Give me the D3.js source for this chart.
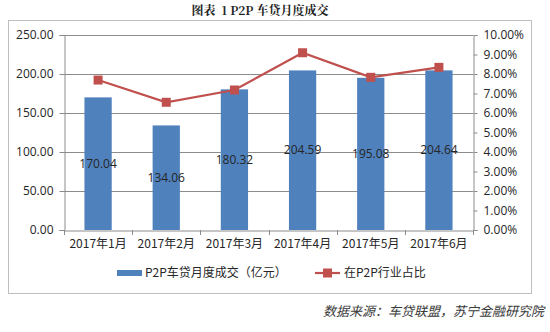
<!DOCTYPE html>
<html><head><meta charset="utf-8">
<script src="https://cdn.jsdelivr.net/npm/d3@7"></script>
<style>
body{margin:0;background:#fff;}
svg{display:block;}
text{font-family:"Noto Sans CJK SC","Liberation Sans",sans-serif;}
</style></head>
<body>
<svg id="c" width="550" height="332"></svg>
<script>
const categories = ["2017年1月","2017年2月","2017年3月","2017年4月","2017年5月","2017年6月"];
const volumes = [170.04, 134.06, 180.32, 204.59, 195.08, 204.64];
const shares = [7.69, 6.55, 7.18, 9.09, 7.83, 8.34];
const leftTicks = [0,50,100,150,200,250];
const rightTicks = [0,1,2,3,4,5,6,7,8,9,10];
const seriesNames = ["P2P车贷月度成交（亿元）","在P2P行业占比"];
const titleText = "图表  1 P2P 车贷月度成交";
const sourceText = "数据来源：车贷联盟，苏宁金融研究院";

const svg = d3.select("#c");
const L = 64, R = 473, T = 35, B = 230;
const blue = "#4f81bd", red = "#c0504d", grid = "#8c8c8c", axisC = "#8c8c8c", txt = "#262626";

// border
svg.append("rect").attr("x",8.5).attr("y",20.5).attr("width",523).attr("height",273)
  .attr("fill","none").attr("stroke","#bfbfbf").attr("stroke-width",1);

// title
svg.append("text").attr("x",260).attr("y",15).attr("text-anchor","middle")
  .attr("font-size",12).attr("font-weight","bold").attr("fill","#222")
  .style("white-space","pre")
  .style("font-family","'Noto Serif CJK SC','Noto Sans CJK SC',serif").text(titleText);

const x = d3.scaleBand().domain(categories).range([L,R]).paddingInner(0.6).paddingOuter(0.3);
const xb = d3.scaleBand().domain(categories).range([L,R]);
const yL = d3.scaleLinear().domain([0,250]).range([B,T]);
const yR = d3.scaleLinear().domain([0,10]).range([B,T]);

// gridlines
svg.append("g").selectAll("line").data(leftTicks.slice(1)).join("line")
  .attr("x1",L).attr("x2",R).attr("y1",d=>Math.round(yL(d))+0.5).attr("y2",d=>Math.round(yL(d))+0.5)
  .attr("stroke",grid).attr("stroke-width",1);

// left axis
const gl = svg.append("g").attr("transform",`translate(${L+0.5},0)`)
  .call(d3.axisLeft(yL).tickValues(leftTicks).tickFormat(d3.format(".2f")).tickSize(5).tickPadding(6));
gl.selectAll("path,line").attr("stroke",axisC);
gl.selectAll("text").attr("font-size",12).attr("fill",txt).style("font-family","'Open Sans','Liberation Sans',sans-serif");

// right axis
const gr = svg.append("g").attr("transform",`translate(${R+0.5},0)`)
  .call(d3.axisRight(yR).tickValues(rightTicks).tickFormat(d=>d.toFixed(2)+"%").tickSize(4).tickPadding(6));
gr.selectAll("path,line").attr("stroke",axisC);
gr.selectAll("text").attr("font-size",12).attr("fill",txt).style("font-family","'Open Sans','Liberation Sans',sans-serif");

// bottom axis
const gb = svg.append("g").attr("transform",`translate(0,${B+0.5})`)
  .call(d3.axisBottom(xb).tickSize(0).tickPadding(9));
gb.select("path").attr("stroke",axisC);
gb.selectAll("text").attr("font-size",12).attr("fill",txt);
svg.append("g").selectAll("line").data(d3.range(categories.length+1)).join("line")
  .attr("x1",i=>Math.round(L+i*xb.step())+0.5).attr("x2",i=>Math.round(L+i*xb.step())+0.5)
  .attr("y1",B).attr("y2",B+5).attr("stroke",axisC);

// bars
svg.append("g").selectAll("rect").data(volumes).join("rect")
  .attr("x",(d,i)=>x(categories[i])).attr("width",x.bandwidth())
  .attr("y",d=>yL(d)).attr("height",d=>B-yL(d)).attr("fill",blue);

// bar labels
svg.append("g").selectAll("text").data(volumes).join("text")
  .attr("x",(d,i)=>x(categories[i])+x.bandwidth()/2).attr("y",d=>(yL(d)+B)/2+4)
  .attr("text-anchor","middle").attr("font-size",12).attr("fill",txt)
  .style("font-family","'Open Sans','Liberation Sans',sans-serif")
  .text(d=>d.toFixed(2));

// line
const line = d3.line().x((d,i)=>xb(categories[i])+xb.bandwidth()/2).y(d=>yR(d));
svg.append("path").datum(shares).attr("d",line).attr("fill","none").attr("stroke",red).attr("stroke-width",2.2);
svg.append("g").selectAll("rect").data(shares).join("rect")
  .attr("x",(d,i)=>xb(categories[i])+xb.bandwidth()/2-4.5).attr("y",d=>yR(d)-4.5)
  .attr("width",9).attr("height",9).attr("fill",red);

// legend
const lg = svg.append("g");
lg.append("rect").attr("x",117).attr("y",270).attr("width",25).attr("height",6).attr("fill",blue);
lg.append("text").attr("x",145).attr("y",277).attr("font-size",12).attr("fill",txt).text(seriesNames[0]);
lg.append("line").attr("x1",315).attr("x2",340).attr("y1",273).attr("y2",273).attr("stroke",red).attr("stroke-width",2.2);
lg.append("rect").attr("x",323).attr("y",268.5).attr("width",9).attr("height",9).attr("fill",red);
lg.append("text").attr("x",344).attr("y",277).attr("font-size",12).attr("fill",txt).text(seriesNames[1]);

// source
svg.append("text").attr("x",544).attr("y",316).attr("text-anchor","end")
  .attr("font-size",13).attr("font-style","italic").attr("fill","#3a3a3a")
  .text(sourceText);
</script>
</body></html>
